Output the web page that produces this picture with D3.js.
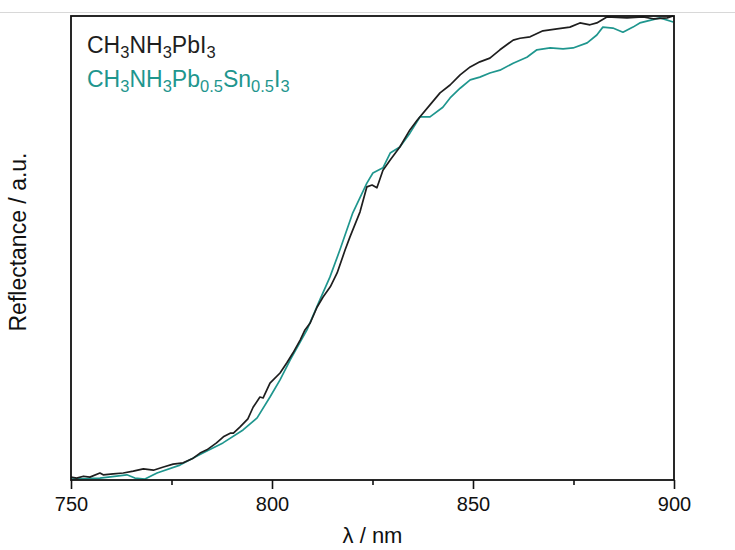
<!DOCTYPE html>
<html>
<head>
<meta charset="utf-8">
<script src="https://cdn.jsdelivr.net/npm/d3@7"></script>
<style>
  html, body { margin: 0; padding: 0; background: #fff; }
  svg { display: block; font-family: "Liberation Sans", Arial, sans-serif; }
</style>
</head>
<body>
<svg id="chart" width="735" height="550"></svg>
<script>
// ---- data (wavelength in nm, reflectance in a.u.) ----
const pbWavelength = [750.0, 751.4, 753.1, 754.7, 757.2, 758.0, 760.5, 763.0, 765.5, 768.0, 770.5, 773.0, 775.4, 777.9, 780.4, 782.1, 783.8, 786.2, 787.9, 789.6, 790.4, 792.0, 794.0, 795.3, 797.0, 797.8, 799.5, 802.0, 803.7, 805.2, 807.0, 808.2, 809.5, 811.2, 812.7, 814.5, 816.2, 818.2, 819.4, 821.9, 823.6, 824.9, 826.1, 827.6, 829.4, 831.8, 834.3, 836.1, 839.3, 841.8, 844.3, 846.8, 849.3, 851.7, 854.2, 856.7, 860.0, 861.7, 864.2, 867.4, 870.9, 874.1, 876.6, 879.1, 880.8, 883.3, 888.3, 892.3, 894.8, 898.3, 899.8];
const pbReflectance = [0.004, 0.002, 0.006, 0.004, 0.013, 0.009, 0.011, 0.013, 0.017, 0.022, 0.019, 0.026, 0.032, 0.035, 0.045, 0.056, 0.063, 0.078, 0.091, 0.099, 0.099, 0.112, 0.130, 0.155, 0.177, 0.175, 0.207, 0.229, 0.251, 0.272, 0.300, 0.322, 0.337, 0.371, 0.393, 0.415, 0.445, 0.495, 0.523, 0.577, 0.631, 0.635, 0.629, 0.667, 0.689, 0.717, 0.754, 0.775, 0.808, 0.834, 0.851, 0.873, 0.890, 0.901, 0.909, 0.927, 0.948, 0.952, 0.955, 0.968, 0.972, 0.976, 0.985, 0.981, 0.985, 0.998, 0.996, 0.998, 0.994, 0.996, 1.000];

const snWavelength = [750.0, 757.2, 763.9, 765.9, 768.4, 771.4, 777.1, 782.8, 787.8, 792.8, 796.3, 799.5, 802.0, 804.5, 808.7, 811.9, 814.4, 816.9, 820.1, 823.6, 825.1, 827.6, 829.4, 831.8, 834.3, 836.8, 839.3, 842.5, 844.3, 846.8, 849.3, 851.7, 854.2, 856.7, 860.0, 863.4, 865.9, 869.2, 872.4, 874.9, 878.4, 880.8, 882.3, 884.8, 887.3, 889.8, 891.5, 896.5, 899.8];
const snReflectance = [0.000, 0.002, 0.009, 0.002, 0.000, 0.013, 0.030, 0.056, 0.078, 0.106, 0.132, 0.177, 0.214, 0.257, 0.322, 0.387, 0.436, 0.495, 0.575, 0.639, 0.661, 0.672, 0.704, 0.717, 0.747, 0.782, 0.782, 0.803, 0.823, 0.844, 0.862, 0.868, 0.877, 0.883, 0.898, 0.911, 0.927, 0.931, 0.929, 0.931, 0.942, 0.959, 0.976, 0.974, 0.965, 0.976, 0.985, 0.996, 0.987];

const majorTicks = [750, 800, 850, 900];
const minorTicks = [775, 825, 875];

// legend labels: [text, isSubscript]
const legendPb = [["CH", false], ["3", true], ["NH", false], ["3", true], ["PbI", false], ["3", true]];
const legendSn = [["CH", false], ["3", true], ["NH", false], ["3", true], ["Pb", false], ["0.5", true], ["Sn", false], ["0.5", true], ["I", false], ["3", true]];

const xLabel = "λ / nm";
const yLabel = "Reflectance / a.u.";

const colorPb = "#1e1e1e";
const colorSn = "#1f968e";

// ---- layout ----
const svg = d3.select("#chart");
const mLeft = 71, mRight = 674, mTop = 16, mBottom = 480;

const x = d3.scaleLinear().domain([750, 900]).range([mLeft, mRight]);
const y = d3.scaleLinear().domain([0, 1]).range([mBottom - 1, mTop]);

// faint top rule
svg.append("line")
  .attr("x1", 0).attr("x2", 735).attr("y1", 12.5).attr("y2", 12.5)
  .attr("stroke", "#d8d8d8").attr("stroke-width", 1);

// clip for the curves
svg.append("clipPath").attr("id", "plotclip")
  .append("rect").attr("x", mLeft).attr("y", mTop - 1).attr("width", mRight - mLeft).attr("height", mBottom - mTop + 1);

const line = d3.line().x(d => x(d[0])).y(d => y(d[1])).curve(d3.curveLinear);

const pbData = pbWavelength.map((w, i) => [w, pbReflectance[i]]);
const snData = snWavelength.map((w, i) => [w, snReflectance[i]]);

const g = svg.append("g").attr("clip-path", "url(#plotclip)");
g.append("path").datum(snData)
  .attr("d", line).attr("fill", "none")
  .attr("stroke", colorSn).attr("stroke-width", 1.7).attr("stroke-linejoin", "round");
g.append("path").datum(pbData)
  .attr("d", line).attr("fill", "none")
  .attr("stroke", colorPb).attr("stroke-width", 1.7).attr("stroke-linejoin", "round");

// frame
svg.append("rect")
  .attr("x", mLeft).attr("y", mTop).attr("width", mRight - mLeft).attr("height", mBottom - mTop)
  .attr("fill", "none").attr("stroke", "#111").attr("stroke-width", 1.8);

// x axis (major)
const xAxis = d3.axisBottom(x).tickValues(majorTicks).tickSize(9).tickSizeOuter(0).tickPadding(8).tickFormat(d3.format("d"));
const ax = svg.append("g").attr("transform", `translate(0,${mBottom})`).call(xAxis);
ax.select(".domain").remove();
ax.selectAll(".tick line").attr("stroke", "#111").attr("stroke-width", 1.6);
ax.selectAll(".tick text")
  .attr("font-size", 20).attr("font-family", "Liberation Sans, Arial, sans-serif")
  .attr("fill", "#111");

// minor ticks
const axMinor = d3.axisBottom(x).tickValues(minorTicks).tickSize(5).tickSizeOuter(0).tickFormat("");
const am = svg.append("g").attr("transform", `translate(0,${mBottom})`).call(axMinor);
am.select(".domain").remove();
am.selectAll(".tick line").attr("stroke", "#111").attr("stroke-width", 1.6);

// axis labels
svg.append("text")
  .attr("x", (mLeft + mRight) / 2).attr("y", 543)
  .attr("text-anchor", "middle").attr("font-size", 22).attr("fill", "#111")
  .text(xLabel);

svg.append("text")
  .attr("transform", `translate(26,${(mTop + mBottom) / 2 - 6}) rotate(-90)`)
  .attr("text-anchor", "middle").attr("font-size", 23).attr("fill", "#111")
  .text(yLabel);

// legend
function legendText(parts, yBase, color) {
  const t = svg.append("text").attr("x", 87).attr("y", yBase)
    .attr("font-size", 23).attr("fill", color);
  let sub = false;
  parts.forEach(([s, isSub]) => {
    const ts = t.append("tspan").text(s);
    if (isSub && !sub) { ts.attr("dy", 5).attr("font-size", 16.5); sub = true; }
    else if (isSub && sub) { ts.attr("font-size", 16.5); }
    else if (!isSub && sub) { ts.attr("dy", -5); sub = false; }
  });
}
legendText(legendPb, 53, colorPb);
legendText(legendSn, 87, colorSn);
</script>
</body>
</html>
